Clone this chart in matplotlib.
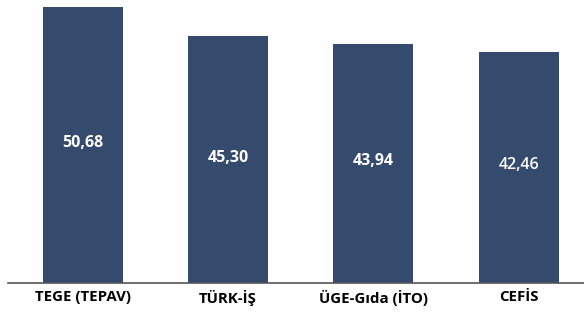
import matplotlib.pyplot as plt

categories = ['TEGE (TEPAV)', 'TÜRK-İŞ', 'ÜGE-Gıda (İTO)', 'CEFİS']
values = [50.68, 45.30, 43.94, 42.46]
labels = ['50,68', '45,30', '43,94', '42,46']
label_weight = ['bold', 'bold', 'bold', 'semibold']

plt.rcParams['font.family'] = ['Open Sans', 'DejaVu Sans']

fig = plt.figure(figsize=(5.84, 3.12), dpi=100)
ax = fig.add_axes([0.0137, 0.093, 0.9863, 0.907])

x = range(len(categories))
bars = ax.bar(x, values, width=0.55, color='#344b6d')

for b, lab, w in zip(bars, labels, label_weight):
    ax.text(b.get_x() + b.get_width() / 2, b.get_height() / 2 + 0.35, lab,
            ha='center', va='center', color='white', fontsize=11.5, fontweight=w)

ax.set_xlim(-0.513, 3.45)
ax.set_ylim(0, 51.97)
ax.set_xticks(list(x))
ax.set_xticklabels(categories, fontsize=10.8, fontweight='bold')
ax.tick_params(axis='x', length=0, pad=5)
ax.set_yticks([])
for s in ['top', 'right', 'left']:
    ax.spines[s].set_visible(False)
ax.spines['bottom'].set_color('#555555')
ax.spines['bottom'].set_linewidth(1.2)

fig.savefig('out.png', dpi=100)
